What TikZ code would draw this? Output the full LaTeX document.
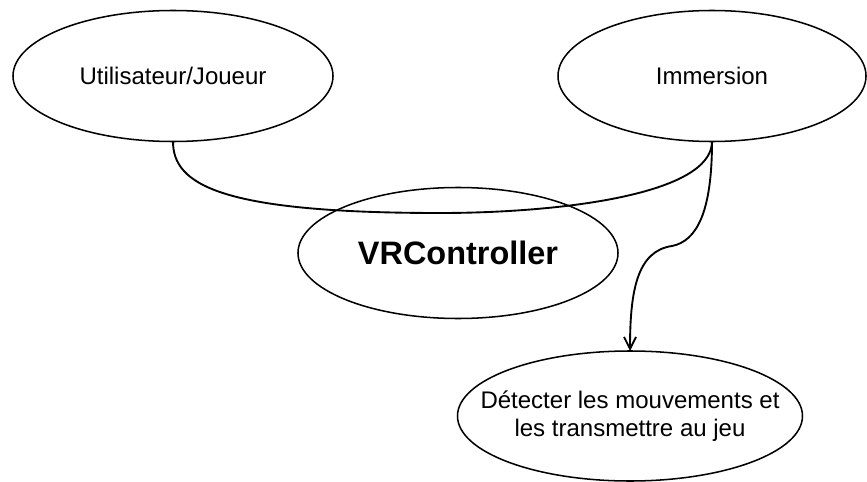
\documentclass[tikz,border=0pt]{standalone}
\usepackage{fontspec}
\setmainfont{Liberation Sans}
\usetikzlibrary{shapes.geometric,arrows.meta}
\begin{document}
\begin{tikzpicture}[x=0.03cm,y=-0.03cm,font=\fontsize{20.5}{24}\selectfont]
	\useasboundingbox (0,0)rectangle(867,482);
	\tikzset{bulle/.style={draw,ellipse,line width=1.3pt,inner sep=0pt,outer sep=0pt,align=center,minimum width=9.6cm,minimum height=3.93cm}}
	\tikzset{lien/.style={draw,line width=1.6pt}}
	\node[bulle](user) at (173,76){Utilisateur/Joueur};
	\node[bulle,minimum width=9.24cm](imm) at (712,76){Immersion};
	\node[bulle,font=\fontsize{27.7}{30}\selectfont\bfseries](vr) at (458,253){VRController};
	\node[bulle,inner xsep=-2cm,inner ysep=-1cm,minimum width=10.35cm,minimum height=3.9cm](det) at (630,416){Détecter les mouvements et\\les transmettre au jeu};
	\coordinate (m1) at (440,213);
	\coordinate (m2) at (672,246);
	\draw[lien](user.south)..controls +(0,43) and +(-220,0)..(m1)..controls +(120,0) and +(0,53)..(imm.south);
	\draw[lien,-{Straight Barb[length=3.6mm,width=3.6mm]}](imm.south)..controls +(0,70) and +(25,-5)..(m2)..controls +(-35,5) and +(0,-60)..(det.north);
\end{tikzpicture}
\end{document}
